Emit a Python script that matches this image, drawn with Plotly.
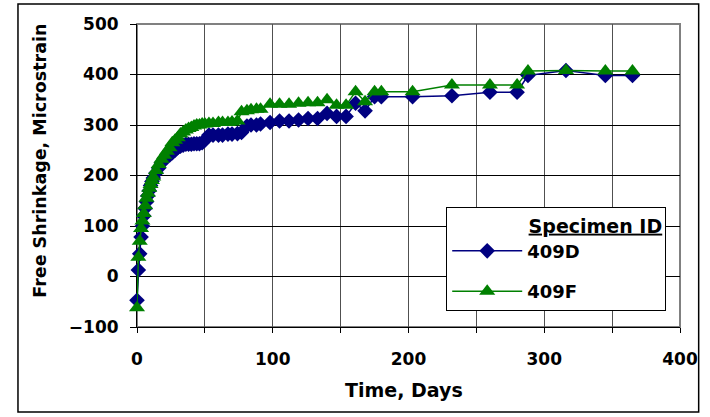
import plotly.graph_objects as go

# Time (days) at which the specimens were measured
DAYS = [0, 1, 2, 3, 4, 5, 6, 7, 8, 9, 10, 11, 12, 14, 16, 18, 20, 22, 24, 26,
        28, 30, 32, 34, 36, 38, 40, 42, 44, 46, 48, 50, 53, 56, 60, 63, 67, 70,
        74, 77, 81, 84, 88, 91, 98, 105, 112, 119, 126, 133, 140, 147, 154,
        161, 168, 175, 180, 203, 232, 260, 280, 288, 316, 345, 365]

# Free shrinkage, microstrain
SHRINK_409D = [-47, 13, 45, 78, 100, 120, 135, 148, 160, 170, 180, 188, 195,
               205, 215, 225, 232, 238, 240, 245, 250, 255, 258, 260, 262, 262,
               262, 263, 263, 263, 265, 270, 280, 280, 280, 280, 282, 282, 283,
               285, 298, 300, 300, 302, 305, 308, 308, 310, 313, 313, 323, 317,
               317, 343, 328, 356, 356, 356, 358, 365, 365, 398, 408, 398, 398]

SHRINK_409F = [-62, 38, 70, 95, 110, 125, 140, 155, 165, 175, 182, 190, 197,
               210, 222, 232, 240, 248, 255, 265, 270, 275, 282, 286, 290, 293,
               295, 298, 300, 300, 302, 302, 303, 303, 305, 305, 305, 306, 308,
               326, 328, 330, 331, 331, 341, 341, 341, 343, 344, 344, 350, 339,
               339, 366, 346, 366, 366, 366, 379, 379, 379, 407, 408, 407, 407]

FONT = "DejaVu Sans, sans-serif"

fig = go.Figure()
fig.add_trace(go.Scatter(
    x=DAYS, y=SHRINK_409D, name="409D", mode="lines+markers", legendgroup="d",
    line=dict(color="#000080", width=1.5),
    marker=dict(symbol="diamond", size=12, color="#000080"),
    cliponaxis=False,
))
fig.add_trace(go.Scatter(
    x=DAYS, y=SHRINK_409F, name="409F", mode="lines+markers", legendgroup="f",
    line=dict(color="#008000", width=1.5),
    marker=dict(symbol="triangle-up", size=14, color="#008000"),
    cliponaxis=False,
))

tick_font = dict(family=FONT, size=17, color="black", weight="bold")

fig.update_xaxes(
    range=[0, 400], dtick=100, tick0=0,
    showgrid=True, gridcolor="#505050", gridwidth=1,
    minor=dict(dtick=50, showgrid=True, gridcolor="#505050", ticks="outside",
               ticklen=5, tickcolor="black"),
    ticks="outside", ticklen=5, tickcolor="black",
    showline=True, linecolor="black", linewidth=1,
    zeroline=False, tickfont=tick_font, ticklabelstandoff=12,
    layer="below traces",
)
fig.update_yaxes(
    range=[-100, 500], dtick=100,
    showgrid=True, gridcolor="black", gridwidth=1,
    ticks="outside", ticklen=6, tickcolor="black",
    showline=True, linecolor="black", linewidth=1,
    zeroline=False, tickfont=tick_font, ticklabelstandoff=8,
    layer="below traces",
)

# plot-area frame (grey) and outer chart border (black)
fig.add_shape(type="rect", xref="paper", yref="paper", x0=0, x1=1, y0=0, y1=1,
              line=dict(color="#808080", width=2), layer="below")
fig.add_shape(type="rect", xref="paper", yref="paper",
              x0=-0.2192, x1=1.0344, y0=-0.2805, y1=1.066,
              line=dict(color="black", width=1.5))

fig.add_annotation(text="Time, Days", xref="paper", yref="paper", x=0.491, y=-0.208,
                   showarrow=False, xanchor="center", yanchor="middle",
                   font=dict(family=FONT, size=19, color="black", weight="bold"))
fig.add_annotation(text="Free Shrinkage, Microstrain", xref="paper", yref="paper",
                   x=-0.178, y=0.55, textangle=-90, showarrow=False,
                   xanchor="center", yanchor="middle",
                   font=dict(family=FONT, size=17.5, color="black", weight="bold"))

fig.update_layout(
    width=710, height=417,
    margin=dict(l=137, r=21, t=24, b=90),
    paper_bgcolor="white", plot_bgcolor="white",
    showlegend=True,
    legend=dict(
        title=dict(text="&nbsp;" * 12 + "<u>Specimen ID</u>", side="top",
                   font=dict(family=FONT, size=19, color="black", weight="bold")),
        font=dict(family=FONT, size=18, color="black", weight="bold"),
        x=0.9746, xanchor="right", y=0.053, yanchor="bottom",
        bgcolor="white", bordercolor="black", borderwidth=1,
        itemwidth=70, tracegroupgap=14,
    ),
)

fig.write_html("out.html", config={"displayModeBar": False},
               post_script="document.body.style.margin='0';")
